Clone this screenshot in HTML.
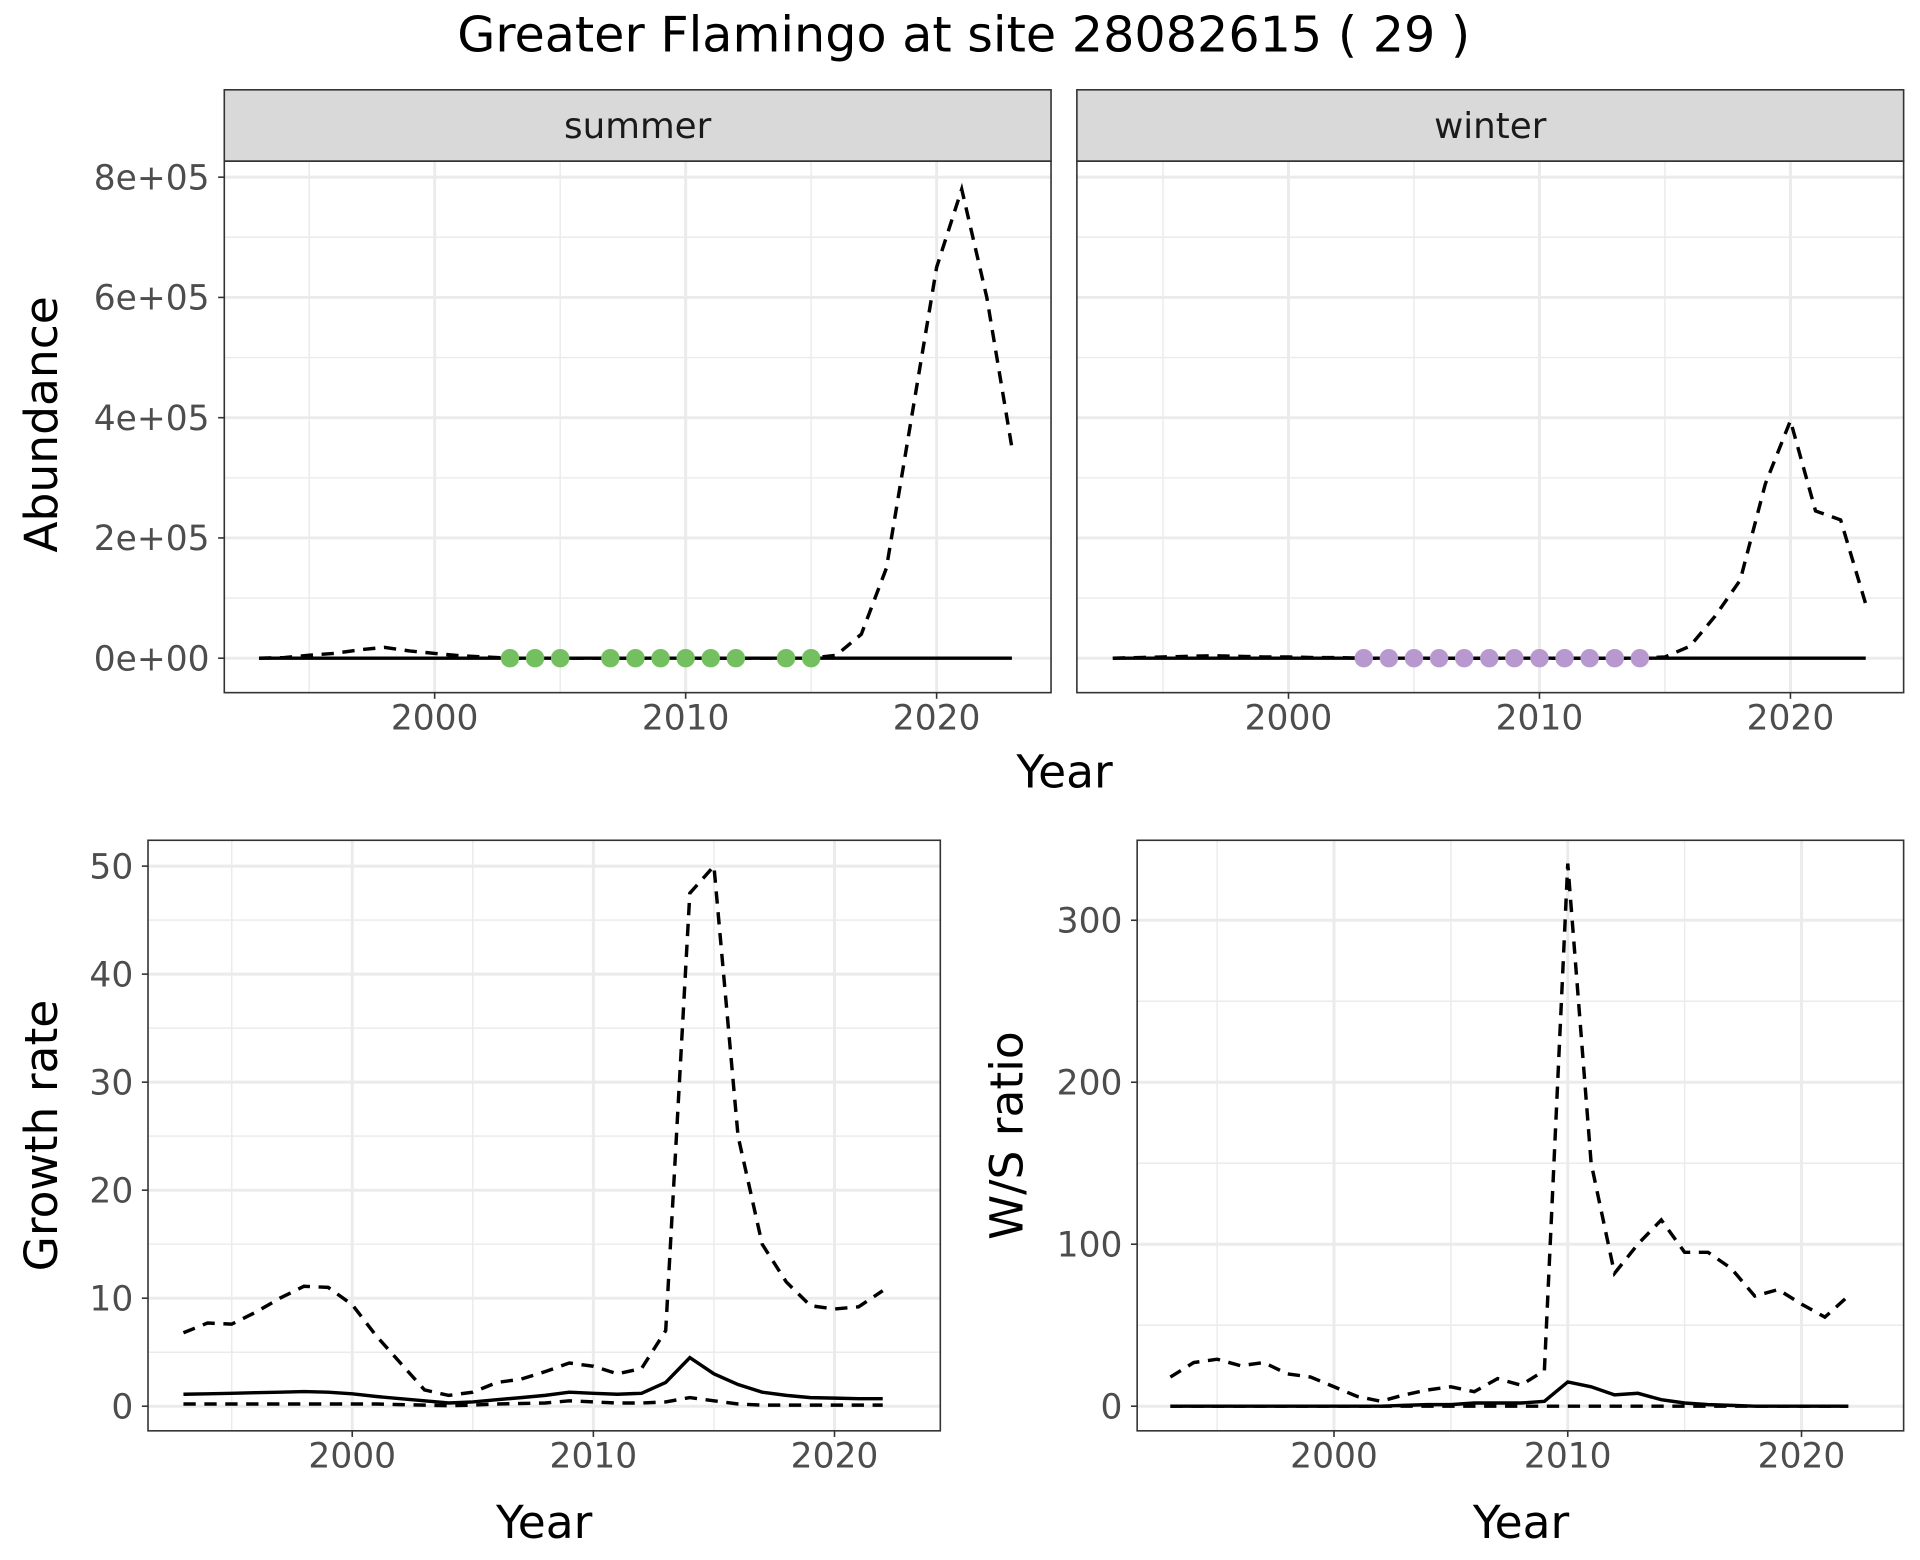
<!DOCTYPE html>
<html><head><meta charset="utf-8"><style>
html,body{margin:0;padding:0;background:#fff;}
svg{display:block;font-family:"DejaVu Sans","Liberation Sans",sans-serif;}
</style></head><body>
<svg id="chart" width="1920" height="1560" viewBox="0 0 1560 1268"></svg>
<script>
// ---- data ----
const absYears=[1993,1994,1995,1996,1997,1998,1999,2000,2001,2002,2003,2004,2005,2006,2007,2008,2009,2010,2011,2012,2013,2014,2015,2016,2017,2018,2019,2020,2021,2022,2023];
const summerUpper=[0,1,5,8,14,18,12,8,4,2,0,0,0,0,0,0,0,0,0,0,0,0,0,5,40,150,400,650,780,600,350];
const summerMid=[0,0,0,0,0,0,0,0,0,0,0,0,0,0,0,0,0,0,0,0,0,0,0,0,0,0,0,0,0,0,0];
const winterUpper=[0,1,2,3,4,3,2,2,1,1,0,0,0,0,0,0,0,0,0,0,0,0,2,20,70,130,290,395,245,230,90];
const winterMid=[0,0,0,0,0,0,0,0,0,0,0,0,0,0,0,0,0,0,0,0,0,0,0,0,0,0,0,0,0,0,0];
const summerObs=[2003,2004,2005,2007,2008,2009,2010,2011,2012,2014,2015];
const winterObs=[2003,2004,2005,2006,2007,2008,2009,2010,2011,2012,2013,2014];
const absTicks=[0,200,400,600,800];
const absTickLabels=["0e+00","2e+05","4e+05","6e+05","8e+05"];
const yearTicks=[2000,2010,2020];

const grYears=[1993,1994,1995,1996,1997,1998,1999,2000,2001,2002,2003,2004,2005,2006,2007,2008,2009,2010,2011,2012,2013,2014,2015,2016,2017,2018,2019,2020,2021,2022];
const grUpper=[6.8,7.7,7.6,8.7,10,11.1,11,9.4,6.5,4,1.5,1,1.3,2.2,2.5,3.2,4,3.7,3,3.5,7,47.5,50,25,15,11.5,9.3,9,9.2,10.7];
const grMid=[1.1,1.15,1.2,1.25,1.3,1.35,1.3,1.15,0.9,0.7,0.5,0.3,0.4,0.6,0.8,1.0,1.3,1.2,1.1,1.2,2.2,4.5,3,2,1.3,1,0.8,0.75,0.7,0.7];
const grLower=[0.2,0.2,0.2,0.2,0.2,0.2,0.2,0.2,0.2,0.15,0.1,0.05,0.1,0.2,0.25,0.3,0.5,0.4,0.3,0.3,0.4,0.8,0.5,0.2,0.1,0.1,0.1,0.1,0.1,0.1];
const grTicks=[0,10,20,30,40,50];

const wsYears=grYears;
const wsUpper=[18,27,29,25,27,20,18,12,6,3,7,10,12,9,17,13,22,335,150,82,100,115,95,95,85,68,72,63,55,68];
const wsMid=[0,0,0,0,0,0,0,0,0,0,0.5,1,1,2,2,2,3,15,12,7,8,4,2,1,0.5,0,0,0,0,0];
const wsLower=[0,0,0,0,0,0,0,0,0,0,0,0,0,0,0,0,0,0,0,0,0,0,0,0,0,0,0,0,0,0];
const wsTicks=[0,100,200,300];

// ---- helpers ----
const svg=document.getElementById('chart');
const NS='http://www.w3.org/2000/svg';
function mk(tag,at,parent){const e=document.createElementNS(NS,tag);for(const k in at)e.setAttribute(k,at[k]);(parent||svg).appendChild(e);return e;}
function txt(s,x,y,size,fill,anchor,name,rot){const t=mk('text',{x:x,y:y,'font-size':size,fill:fill,'text-anchor':anchor});if(rot)t.setAttribute('transform','rotate(-90 '+x+' '+y+')');t.textContent=s;


return t;}
function lin(d0,d1,r0,r1){return v=>r0+(v-d0)*(r1-r0)/(d1-d0);}

function panel(o){
  const g=mk('g',{});
  
  
  mk('rect',{x:o.x0,y:o.y0,width:o.x1-o.x0,height:o.y1-o.y0,fill:'#fff'},g);
  [1995,2005,2015].forEach(yr=>mk('line',{x1:o.xs(yr),x2:o.xs(yr),y1:o.y0,y2:o.y1,stroke:'#ebebeb','stroke-width':1.2},g));
  o.yminor.forEach(v=>mk('line',{x1:o.x0,x2:o.x1,y1:o.ys(v),y2:o.ys(v),stroke:'#ebebeb','stroke-width':1.2},g));
  yearTicks.forEach(yr=>mk('line',{x1:o.xs(yr),x2:o.xs(yr),y1:o.y0,y2:o.y1,stroke:'#ebebeb','stroke-width':2.4},g));
  o.yticks.forEach(v=>mk('line',{x1:o.x0,x2:o.x1,y1:o.ys(v),y2:o.ys(v),stroke:'#ebebeb','stroke-width':2.4},g));
  return g;
}
function border(o){const r=mk('rect',{x:o.x0,y:o.y0,width:o.x1-o.x0,height:o.y1-o.y0,fill:'none',stroke:'#333','stroke-width':1.3});

}
function axes(o,showY){
  yearTicks.forEach(yr=>{mk('line',{x1:o.xs(yr),x2:o.xs(yr),y1:o.y1,y2:o.y1+5,stroke:'#333','stroke-width':1.3});
    txt(String(yr),o.xs(yr),o.y1+30,28,'#4d4d4d','middle','x-tick-label');});
  if(showY)o.yticks.forEach((v,i)=>{mk('line',{x1:o.x0-5,x2:o.x0,y1:o.ys(v),y2:o.ys(v),stroke:'#333','stroke-width':1.3});
    txt(o.ylabels[i],o.x0-12,o.ys(v)+10,28,'#4d4d4d','end','y-tick-label');});
}
function line(xs,ys,X,Y,dash,name){
  const d=X.map((x,i)=>(i?'L':'M')+xs(x).toFixed(1)+' '+ys(Y[i]).toFixed(1)).join(' ');
  const p=mk('path',{d:d,fill:'none',stroke:'#000','stroke-width':2.8,'stroke-dasharray':dash?'10 7':'none'});
  
  
}
function pts(xs,ys,X,col,name){X.forEach(x=>{const c=mk('circle',{cx:xs(x),cy:ys(0),r:7.5,fill:col});
  
  });}

// title
txt('Greater Flamingo at site 28082615 ( 29 )',783,42,40,'#000','middle','chart-title');

// ---- top panels ----
const aYs=lin(0,800,535,144);
const absMinor=[-100,100,300,500,700,900].filter(v=>aYs(v)>131&&aYs(v)<563);
const tl={x0:182,x1:854,y0:131,y1:563,xs:lin(2000,2010,353,557),ys:aYs,yticks:absTicks,ylabels:absTickLabels,yminor:absMinor,name:'summer-panel'};
const tr={x0:875,x1:1547,y0:131,y1:563,xs:lin(2000,2010,1047,1251),ys:aYs,yticks:absTicks,ylabels:absTickLabels,yminor:absMinor,name:'winter-panel'};
[tl,tr].forEach((o,i)=>{
  panel(o);
  const s=mk('rect',{x:o.x0,y:73,width:o.x1-o.x0,height:58,fill:'#d9d9d9',stroke:'#333','stroke-width':1.3});
  
  
  txt(i?'winter':'summer',(o.x0+o.x1)/2,112,29,'#1a1a1a','middle',i?'winter-strip-label':'summer-strip-label');
});
line(tl.xs,tl.ys,absYears,summerUpper,true,'summer-upper-bound');
line(tl.xs,tl.ys,absYears,summerMid,false,'summer-abundance-line');
pts(tl.xs,tl.ys,summerObs,'#74c060','summer-observation');
line(tr.xs,tr.ys,absYears,winterUpper,true,'winter-upper-bound');
line(tr.xs,tr.ys,absYears,winterMid,false,'winter-abundance-line');
pts(tr.xs,tr.ys,winterObs,'#b899cf','winter-observation');
border(tl);border(tr);
axes(tl,true);axes(tr,false);
txt('Abundance',46,345,37,'#000','middle','abundance-y-title',true);
txt('Year',865,640,37,'#000','middle','top-x-axis-title');

// ---- bottom-left growth ----
const bl={x0:120,x1:764,y0:683,y1:1163,xs:lin(2000,2010,286,482),ys:lin(0,50,1143,704),yticks:grTicks,ylabels:grTicks.map(String),yminor:[5,15,25,35,45],name:'growth-rate-panel'};
panel(bl);
line(bl.xs,bl.ys,grYears,grUpper,true,'growth-upper-bound');
line(bl.xs,bl.ys,grYears,grMid,false,'growth-rate-line');
line(bl.xs,bl.ys,grYears,grLower,true,'growth-lower-bound');
border(bl);axes(bl,true);
txt('Growth rate',46,923,37,'#000','middle','growth-y-title',true);
txt('Year',442,1250,37,'#000','middle','growth-x-title');

// ---- bottom-right W/S ----
const br={x0:924,x1:1547,y0:683,y1:1163,xs:lin(2000,2010,1084,1274),ys:lin(0,300,1143,748),yticks:wsTicks,ylabels:wsTicks.map(String),yminor:[50,150,250],name:'ws-ratio-panel'};
panel(br);
line(br.xs,br.ys,wsYears,wsUpper,true,'ws-upper-bound');
line(br.xs,br.ys,wsYears,wsMid,false,'ws-ratio-line');
line(br.xs,br.ys,wsYears,wsLower,true,'ws-lower-bound');
border(br);axes(br,true);
txt('W/S ratio',831,923,37,'#000','middle','ws-y-title',true);
txt('Year',1236,1250,37,'#000','middle','ws-x-title');
</script>
</body></html>
